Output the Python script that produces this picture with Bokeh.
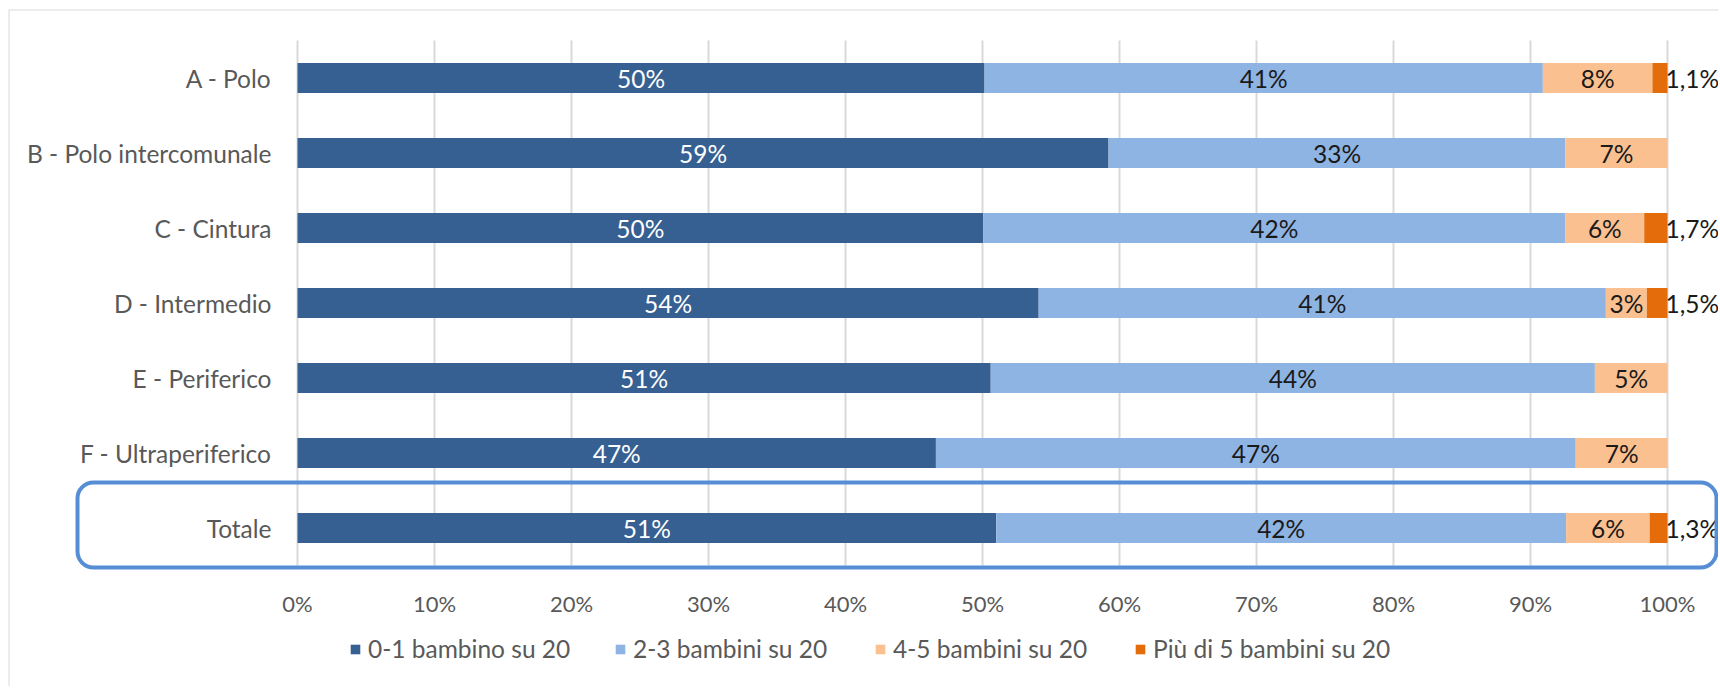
from bokeh.plotting import figure
from bokeh.models import (ColumnDataSource, Range1d, Legend, LegendItem, BoxAnnotation)
from bokeh.core.properties import value
from bokeh.embed import file_html
from bokeh.resources import INLINE

# ---------------- data ----------------
categories = ["A - Polo", "B - Polo intercomunale", "C - Cintura", "D - Intermedio",
              "E - Periferico", "F - Ultraperiferico", "Totale"]
series_names = ["0-1 bambino su 20", "2-3 bambini su 20", "4-5 bambini su 20",
                "Più di 5 bambini su 20"]
s1 = [50.15, 59.2, 50.05, 54.1, 50.6, 46.6, 51.0]   # 0-1 bambino su 20
s2 = [40.75, 33.35, 42.5, 41.4, 44.1, 46.7, 41.6]   # 2-3 bambini su 20
s3 = [8.0, 7.45, 5.75, 3.0, 5.3, 6.7, 6.1]          # 4-5 bambini su 20
s4 = [1.1, 0.0, 1.7, 1.5, 0.0, 0.0, 1.3]            # Più di 5 bambini su 20
x_ticks = [0, 10, 20, 30, 40, 50, 60, 70, 80, 90, 100]
x_tick_labels = ["0%", "10%", "20%", "30%", "40%", "50%", "60%", "70%", "80%", "90%", "100%"]
highlight = "Totale"

# ---------------- layout / style ----------------
colors = ["#376092", "#8EB4E3", "#FAC090", "#E46C0A"]
label_colors = ["#FFFFFF", "#1A1A1A", "#1A1A1A", "#1A1A1A"]
FONT = "Lato"
GREY = "#595959"
W, H = 1718, 686
X0_PX, PX_PER_UNIT = 297.0, 13.7        # pixel of 0 %, pixels per 1 %
ROW0_PX, ROW_PX = 527.5, 75.0           # pixel of the bottom row centre, pixels per row


def X(px):
    return (px - X0_PX) / PX_PER_UNIT


def Y(py):
    return (ROW0_PX - py) / ROW_PX


n = len(categories)
rows = [n - 1 - i for i in range(n)]     # first category on top

p = figure(width=W, height=H, x_range=Range1d(X(0), X(W)), y_range=Range1d(Y(H), Y(0)),
           x_axis_type=None, y_axis_type=None,
           output_backend="svg", toolbar_location=None, min_border=0)
p.outline_line_color = None
p.background_fill_color = "white"
p.border_fill_color = "white"
p.xgrid.visible = False
p.ygrid.visible = False

# chart area border (top / left visible)
p.add_layout(BoxAnnotation(left=X(8.5), top=Y(9.5), right=X(W + 30), bottom=Y(H + 30),
                           fill_color=None, fill_alpha=0, line_color="#D9D9D9",
                           line_alpha=1, line_width=1))

# vertical gridlines
p.segment(x0=x_ticks, x1=x_ticks, y0=[min(rows) - 0.5] * len(x_ticks),
          y1=[max(rows) + 0.5] * len(x_ticks), line_color="#D9D9D9", line_width=2)

# stacked bars
keys = ["s1", "s2", "s3", "s4"]
src = ColumnDataSource(dict(y=rows, s1=s1, s2=s2, s3=s3, s4=s4))
renderers = p.hbar_stack(keys, y="y", height=0.4, color=colors, line_color=None, source=src)

# category labels
p.text(x=[0] * n, y=rows, text=categories, x_offset=-26, text_align="right",
       text_baseline="middle", text_color=GREY, text_font=value(FONT), text_font_size="24.5px")

# x tick labels
p.text(x=x_ticks, y=[Y(603)] * len(x_ticks), text=x_tick_labels, text_align="center",
       text_baseline="middle", text_color=GREY, text_font=value(FONT), text_font_size="22px")

# data labels
series = [s1, s2, s3, s4]
cum = [0.0] * n
for si, vals in enumerate(series):
    xs, ys, ts = [], [], []
    for i, v in enumerate(vals):
        if v > 0:
            if si < 3:
                xs.append(cum[i] + v / 2)
                ts.append("{:.0f}%".format(v))
            else:
                xs.append(cum[i] + v)
                ts.append("{:.1f}%".format(v).replace(".", ","))
            ys.append(rows[i])
        cum[i] += v
    lsrc = ColumnDataSource(dict(x=xs, y=ys, t=ts))
    if si < 3:
        p.text(x="x", y="y", text="t", source=lsrc, text_align="center", text_baseline="middle",
               text_color=label_colors[si], text_font=value(FONT), text_font_size="24.5px")
    else:
        p.text(x="x", y="y", text="t", source=lsrc, text_align="left", text_baseline="middle",
               x_offset=-2, text_color=label_colors[si], text_font=value(FONT),
               text_font_size="24.5px")

# highlight box around "Totale"
hr = rows[categories.index(highlight)]
p.add_layout(BoxAnnotation(left=X(77), right=X(1716), bottom=hr - 0.527, top=hr + 0.607,
                           fill_color=None, fill_alpha=0, line_color="#558ED5", line_alpha=1,
                           line_width=4, border_radius=16))

# legend (one entry per box, placed as in the original)
legend_x = [349, 614, 874, 1134]
for name, r, lx in zip(series_names, renderers, legend_x):
    lg = Legend(items=[LegendItem(label=name, renderers=[r])], location=(lx, H - 648 - 15),
                orientation="horizontal", glyph_width=12, glyph_height=12, label_standoff=7,
                padding=0, margin=0, spacing=0, border_line_color=None,
                background_fill_alpha=0, label_text_font=FONT, label_text_font_size="24.5px",
                label_text_color=GREY, label_text_baseline="middle")
    p.add_layout(lg)

open("out.html", "w").write(file_html(p, INLINE))
